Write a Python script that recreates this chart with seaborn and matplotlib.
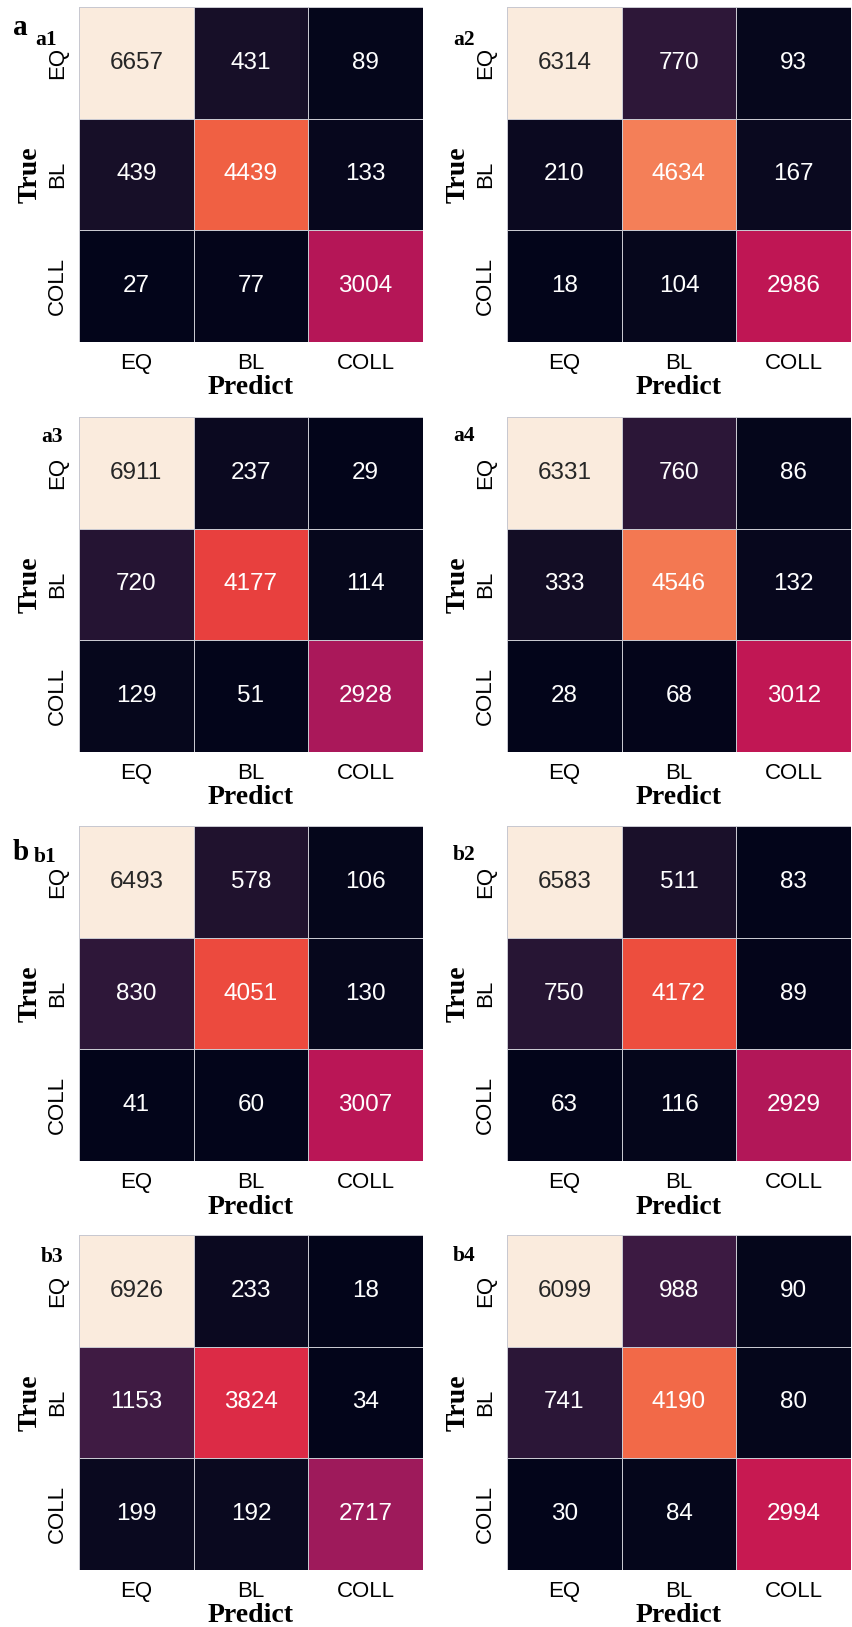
import numpy as np
import matplotlib
matplotlib.use("Agg")
import matplotlib.pyplot as plt
import seaborn as sns

classes = ["EQ", "BL", "COLL"]

a1 = [[6657, 431, 89], [439, 4439, 133], [27, 77, 3004]]
a2 = [[6314, 770, 93], [210, 4634, 167], [18, 104, 2986]]
a3 = [[6911, 237, 29], [720, 4177, 114], [129, 51, 2928]]
a4 = [[6331, 760, 86], [333, 4546, 132], [28, 68, 3012]]
b1 = [[6493, 578, 106], [830, 4051, 130], [41, 60, 3007]]
b2 = [[6583, 511, 83], [750, 4172, 89], [63, 116, 2929]]
b3 = [[6926, 233, 18], [1153, 3824, 34], [199, 192, 2717]]
b4 = [[6099, 988, 90], [741, 4190, 80], [30, 84, 2994]]

panel_names = ["a1", "a2", "a3", "a4", "b1", "b2", "b3", "b4"]
matrices = [a1, a2, a3, a4, b1, b2, b3, b4]

SERIF = "Liberation Serif"
SANS = "Liberation Sans"

W_PX, H_PX = 852, 1627
fig = plt.figure(figsize=(W_PX / 100, H_PX / 100), dpi=100)

col_left = [79, 507]
row_top = [7, 417, 826, 1235]
ax_w, ax_h = 344, 335

# panel label anchors (right edge x, baseline y) in pixels
label_pos = {
    "a1": (57, 45), "a2": (475, 45),
    "a3": (63, 442), "a4": (475, 441),
    "b1": (57, 862), "b2": (475, 860),
    "b3": (63, 1262), "b4": (475, 1261),
}


def px_axes(left, top, w, h):
    return fig.add_axes([left / W_PX, 1 - (top + h) / H_PX, w / W_PX, h / H_PX])


for i, (name, mat) in enumerate(zip(panel_names, matrices)):
    r, c = divmod(i, 2)
    ax = px_axes(col_left[c], row_top[r], ax_w, ax_h)
    sns.heatmap(np.array(mat), ax=ax, annot=True, fmt="d", cmap="rocket",
                cbar=False, linewidths=0.6, linecolor="#c8c8d0",
                xticklabels=classes, yticklabels=classes,
                annot_kws={"fontsize": 17.5, "family": SANS})
    ax.tick_params(length=0, pad=8)
    for t in ax.get_xticklabels():
        t.set_fontfamily(SANS)
        t.set_fontsize(16)
    for t in ax.get_yticklabels():
        t.set_fontfamily(SANS)
        t.set_fontsize(16)
        t.set_rotation(90)
        t.set_va("center")
    ax.set_xlabel("Predict", family=SERIF, fontweight="bold", fontsize=20, labelpad=1)
    ax.set_ylabel("True", family=SERIF, fontweight="bold", fontsize=20, labelpad=3)
    x, y = label_pos[name]
    fig.text(x / W_PX, 1 - y / H_PX, name, family=SERIF, fontweight="bold",
             fontsize=15.5, ha="right", va="baseline")

fig.text(13 / W_PX, 1 - 35 / H_PX, "a", family=SERIF, fontweight="bold",
         fontsize=21, ha="left", va="baseline")
fig.text(13 / W_PX, 1 - 860 / H_PX, "b", family=SERIF, fontweight="bold",
         fontsize=21, ha="left", va="baseline")

fig.savefig("out.png", dpi=100)
